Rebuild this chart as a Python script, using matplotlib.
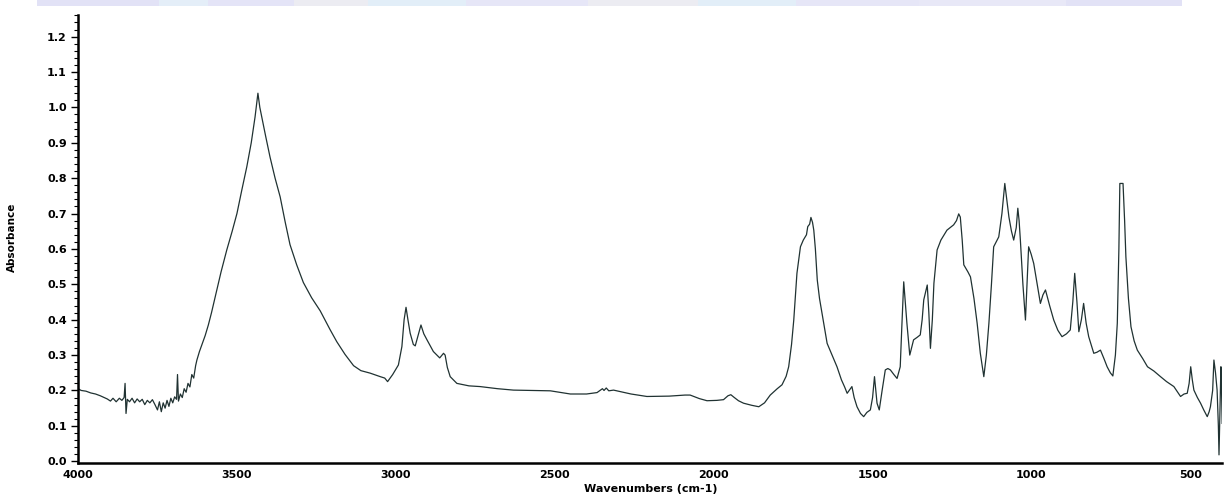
import numpy as np
import matplotlib
matplotlib.use('Agg')
import matplotlib.pyplot as plt
from matplotlib.patches import Rectangle
from matplotlib.ticker import MultipleLocator, FormatStrFormatter

# FTIR absorbance spectrum, wavenumber (cm-1) vs absorbance
wavenumber = [
    4000, 3990, 3975, 3960, 3945, 3930, 3918, 3908, 3898, 3890, 3880, 3870,
    3862, 3855, 3852, 3849, 3845, 3838, 3830, 3822, 3814, 3806, 3798, 3790,
    3782, 3774, 3766, 3758, 3750, 3744, 3738, 3732, 3726, 3720, 3714, 3708,
    3702, 3696, 3690, 3687, 3684, 3678, 3672, 3666, 3660, 3654, 3648, 3642,
    3636, 3630, 3626, 3618, 3610, 3600, 3590, 3580, 3569, 3560, 3550, 3532,
    3515, 3500, 3485, 3469, 3455, 3443, 3434, 3428, 3422, 3410, 3396, 3380,
    3364, 3348, 3333, 3312, 3291, 3265, 3238, 3207, 3186, 3160, 3133, 3110,
    3081, 3049, 3035, 3026, 3010, 2992, 2981, 2974, 2968, 2962, 2955, 2945,
    2939, 2930, 2921, 2912, 2902, 2882, 2862, 2850, 2845, 2838, 2829, 2808,
    2770, 2735, 2680, 2630, 2570, 2514, 2451, 2400, 2367, 2350, 2345, 2338,
    2330, 2315, 2260, 2210, 2140, 2090, 2074, 2045, 2021, 1990, 1969, 1955,
    1946, 1935, 1922, 1906, 1880, 1858, 1840, 1822, 1800, 1785, 1772, 1764,
    1755, 1748, 1738, 1727, 1718, 1712, 1708, 1704, 1698, 1694, 1689, 1685,
    1680, 1674, 1667, 1659, 1650, 1643, 1630, 1612, 1598, 1588, 1580, 1565,
    1558, 1549, 1538, 1528, 1518, 1507, 1500, 1494, 1490, 1486, 1479, 1470,
    1460, 1452, 1444, 1433, 1423, 1413, 1408, 1402, 1397, 1392, 1383, 1371,
    1360, 1350, 1344, 1339, 1328, 1323, 1318, 1312, 1307, 1297, 1285, 1266,
    1245, 1236, 1229, 1224, 1218, 1213, 1200, 1192, 1181, 1171, 1161, 1150,
    1142, 1134, 1126, 1119, 1103, 1093, 1084, 1078, 1071, 1063, 1056, 1048,
    1043, 1039, 1035, 1027, 1019, 1014, 1009, 1001, 993, 982, 972, 964,
    956, 943, 930, 917, 904, 890, 878, 870, 864, 857, 851, 843,
    836, 828, 820, 804, 794, 783, 772, 762, 752, 744, 736, 730,
    725, 722, 712, 707, 703, 695, 687, 677, 667, 650, 635, 615,
    594, 575, 552, 540, 531, 520, 510, 504, 499, 494, 489, 478,
    468, 458, 447, 441, 437, 430, 426, 421, 416, 412, 410, 407,
    404, 402, 400,
]
absorbance = [
    0.205, 0.200, 0.198, 0.193, 0.190, 0.185, 0.180, 0.176, 0.170, 0.178, 0.168, 0.178,
    0.172, 0.180, 0.220, 0.135, 0.175, 0.168, 0.178, 0.165, 0.176, 0.168, 0.175, 0.160,
    0.172, 0.165, 0.174, 0.160, 0.145, 0.168, 0.140, 0.165, 0.150, 0.172, 0.155, 0.178,
    0.165, 0.182, 0.175, 0.245, 0.170, 0.190, 0.180, 0.205, 0.195, 0.220, 0.210, 0.245,
    0.235, 0.270, 0.286, 0.310, 0.330, 0.355, 0.385, 0.420, 0.462, 0.495, 0.535, 0.597,
    0.650, 0.700, 0.765, 0.832, 0.900, 0.973, 1.040, 1.000, 0.973, 0.920, 0.860, 0.800,
    0.747, 0.675, 0.612, 0.555, 0.505, 0.462, 0.425, 0.372, 0.338, 0.302, 0.270, 0.256,
    0.249, 0.239, 0.235, 0.225, 0.245, 0.272, 0.324, 0.400, 0.435, 0.400, 0.362, 0.330,
    0.326, 0.355, 0.385, 0.360, 0.343, 0.310, 0.292, 0.305, 0.300, 0.265, 0.239, 0.220,
    0.213, 0.211, 0.205, 0.201, 0.200, 0.199, 0.190, 0.190, 0.194, 0.205, 0.200, 0.207,
    0.199, 0.201, 0.190, 0.183, 0.184, 0.187, 0.187, 0.177, 0.171, 0.172, 0.174, 0.185,
    0.188, 0.180, 0.171, 0.164, 0.158, 0.154, 0.165, 0.187, 0.205, 0.216, 0.240, 0.267,
    0.330, 0.399, 0.531, 0.606, 0.625, 0.634, 0.640, 0.663, 0.670, 0.689, 0.675, 0.653,
    0.600, 0.512, 0.460, 0.418, 0.370, 0.333, 0.305, 0.267, 0.230, 0.210, 0.192, 0.211,
    0.180, 0.154, 0.135, 0.126, 0.138, 0.145, 0.180, 0.239, 0.200, 0.164, 0.145, 0.200,
    0.258, 0.262, 0.258, 0.245, 0.234, 0.267, 0.380, 0.507, 0.450, 0.390, 0.300, 0.343,
    0.350, 0.357, 0.400, 0.456, 0.498, 0.420, 0.319, 0.400, 0.503, 0.597, 0.625, 0.653,
    0.668, 0.680, 0.699, 0.690, 0.625, 0.555, 0.535, 0.521, 0.460, 0.390, 0.305, 0.239,
    0.300, 0.390, 0.500, 0.606, 0.634, 0.700, 0.785, 0.740, 0.690, 0.650, 0.625, 0.660,
    0.715, 0.680, 0.625, 0.500, 0.399, 0.500, 0.606, 0.585, 0.559, 0.500, 0.446, 0.470,
    0.484, 0.440, 0.399, 0.370, 0.352, 0.360, 0.371, 0.450, 0.531, 0.450, 0.366, 0.400,
    0.446, 0.390, 0.352, 0.305, 0.308, 0.314, 0.290, 0.267, 0.250, 0.241, 0.300, 0.390,
    0.600, 0.785, 0.785, 0.680, 0.578, 0.460, 0.380, 0.340, 0.314, 0.290, 0.267, 0.255,
    0.239, 0.225, 0.211, 0.195, 0.183, 0.190, 0.192, 0.220, 0.267, 0.230, 0.201, 0.180,
    0.164, 0.145, 0.126, 0.140, 0.154, 0.200, 0.286, 0.250, 0.201, 0.100, 0.018, 0.150,
    0.267, 0.200, 0.107,
]

x_ticks = [4000, 3500, 3000, 2500, 2000, 1500, 1000, 500]

fig = plt.figure(figsize=(12.25, 4.97), dpi=100)
ax = fig.add_axes([0.0637, 0.0684, 0.934, 0.9014])

ax.plot(wavenumber, absorbance, color='#203232', linewidth=0.9)

ax.set_xlim(4000, 400)
ax.set_ylim(-0.005, 1.261)

ax.set_xticks(x_ticks)
ax.yaxis.set_major_locator(MultipleLocator(0.1))
ax.yaxis.set_minor_locator(MultipleLocator(0.02))
ax.yaxis.set_major_formatter(FormatStrFormatter('%.1f'))

for lbl in ax.get_xticklabels() + ax.get_yticklabels():
    lbl.set_fontweight('bold')
    lbl.set_fontsize(8)

ax.tick_params(axis='x', length=0, pad=5)
ax.tick_params(axis='y', which='major', length=5, width=1, direction='out', pad=3)
ax.tick_params(axis='y', which='minor', length=3, width=0.8, direction='out')

for side in ('top', 'right'):
    ax.spines[side].set_visible(False)
for side in ('left', 'bottom'):
    ax.spines[side].set_linewidth(1.8)
    ax.spines[side].set_color('black')

fig.text(0.531, 0.006, 'Wavenumbers (cm-1)', ha='center', va='bottom',
         fontsize=8, fontweight='bold')
fig.text(0.010, 0.523, 'Absorbance', ha='center', va='center',
         rotation=90, fontsize=7.5, fontweight='bold')

# pale coloured strip along the top edge
strip = [(0.03, 0.13, '#e2e2f6'), (0.13, 0.17, '#e4eef8'), (0.17, 0.24, '#e4e4f7'),
         (0.24, 0.30, '#ececf2'), (0.30, 0.38, '#e2eef8'), (0.38, 0.48, '#e6e6f7'),
         (0.48, 0.57, '#ececf2'), (0.57, 0.65, '#e2eef8'), (0.65, 0.75, '#e6e6f7'),
         (0.75, 0.87, '#e8e8f7'), (0.87, 0.965, '#e2e2f6')]
for x0, x1, c in strip:
    fig.add_artist(Rectangle((x0, 0.988), x1 - x0, 0.012, transform=fig.transFigure,
                             facecolor=c, edgecolor='none'))

fig.savefig('out.png', dpi=100)
